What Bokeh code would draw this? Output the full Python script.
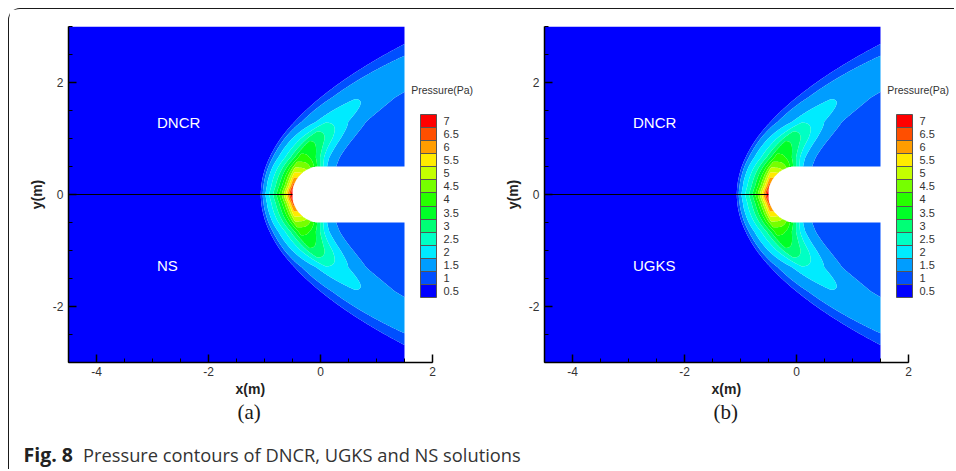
import numpy as np
from bokeh.plotting import figure
from bokeh.models import (Range1d, ColorBar, LinearColorMapper, FixedTicker,
                          NumeralTickFormatter, Title)
from bokeh.layouts import row, column
from bokeh.core.properties import value
from bokeh.embed import file_html
from bokeh.resources import INLINE

# ---------------- data ----------------
level_values = [0.5, 1.0, 1.5, 2.0, 2.5, 3.0, 3.5, 4.0, 4.5, 5.0, 5.5, 6.0, 6.5, 7.0]
palette = ["#0000FF", "#004FFF", "#009DFF", "#00EBFF", "#00FFC4", "#00FF76", "#00FF27",
           "#27FF00", "#76FF00", "#C4FF00", "#FFEB00", "#FF9D00", "#FF4F00", "#FF0000"]
panel_tags = ["(a)", "(b)"]
upper_names = ["DNCR", "DNCR"]
lower_names = ["NS", "UGKS"]
x_major = [-4, -2, 0, 2]
y_major = [-2, 0, 2]
x_axis_title = "x(m)"
y_axis_title = "y(m)"
bar_title = "Pressure(Pa)"
caption_bold = "Fig. 8"
caption_rest = "Pressure contours of DNCR, UGKS and NS solutions"

# flow geometry / field values
x_domain = [-4.5, 1.5]
y_domain = [-3.0, 3.0]
x_axis_end = 2.0
body_radius = 0.5
shock_x0 = -1.08      # outer edge of the shock on the stagnation line
shock_curv = 0.345    # x = x0 + c*y^2
p_inf = 0.5
p_floor = 1.0         # pressure behind the shoulder
ridge_y = [0.0, 0.08, 0.15, 0.25, 0.35, 0.47, 0.66, 1.0, 1.3, 1.73, 2.2, 3.0]
ridge_p = [7.4, 7.0, 6.5, 6.0, 5.5, 4.8, 3.9, 3.15, 2.2, 1.72, 1.55, 1.35]
ridge_m = [0.58, 0.58, 0.58, 0.57, 0.55, 0.52, 0.50, 0.47, 0.45, 0.45, 0.50, 0.55]
jump_frac = [0.25, 0.25, 0.26, 0.28, 0.30, 0.33, 0.38, 0.45, 0.55, 0.70, 0.80, 0.85]
jump_width = [0.15, 0.15, 0.15, 0.15, 0.16, 0.16, 0.17, 0.18, 0.19, 0.2, 0.2, 0.2]

# ---------------- field ----------------
def smoothstep(u):
    s = np.clip(u, 0.0, 1.0)
    return s * s * (3 - 2 * s)

xg = np.linspace(x_domain[0], x_domain[1], 601)
yg = np.linspace(y_domain[0], y_domain[1], 601)
X, Y = np.meshgrid(xg, yg)
AY = np.abs(Y)
xs = shock_x0 + shock_curv * AY ** 2
norm = np.sqrt(1 + (2 * shock_curv * AY) ** 2)
M = (X - xs) / norm
R = np.interp(AY, ridge_y, ridge_p)
MR = np.interp(AY, ridge_y, ridge_m)
AL = np.interp(AY, ridge_y, jump_frac)
TA = np.interp(AY, ridge_y, jump_width)
T = np.clip(M / MR, 0, 1)
F = AL * (1 - np.exp(-T / TA)) / (1 - np.exp(-1 / TA)) + (1 - AL) * T ** 2.3
p_front = p_inf + (R - p_inf) * F
D = np.clip(M - MR, 0, None)
omega = smoothstep((X + 0.45) / 0.6)
p_back = R - (R - p_floor) * (1 - np.exp(-(D / 0.42) ** 2)) * omega
Z = np.where(M < MR, p_front, p_back)
Z = np.where(M <= 0, p_inf, Z)
inside = ((X ** 2 + Y ** 2 < body_radius ** 2) & (X <= 0)) | ((X >= 0) & (AY < body_radius))
Z = np.where(inside, np.nan, Z)

mids = [(a + b) / 2 for a, b in zip(level_values[:-1], level_values[1:])]
edges = [0.0] + mids + [10.0]

FONT = "Liberation Sans"
PX = 56.0          # pixels per metre
FRAME_W = 410
FRAME_H = 336
FIG_H = 420

def make_panel(k, left):
    p = figure(width=left + FRAME_W, height=FIG_H,
               x_range=Range1d(x_domain[0], x_domain[0] + FRAME_W / PX),
               y_range=Range1d(*y_domain), output_backend="svg", toolbar_location=None,
               min_border_left=left, min_border_right=0, min_border_top=17,
               min_border_bottom=FIG_H - 17 - FRAME_H, outline_line_color=None,
               background_fill_color="white", border_fill_color="white")
    p.grid.visible = False
    p.contour(xg, yg, Z, levels=edges, fill_color=palette)
    p.line(x=[x_domain[0], -body_radius], y=[0, 0], line_color="black", line_width=1.2)
    p.text(x=[-2.92, -2.92], y=[1.29, -1.27], text=[upper_names[k], lower_names[k]],
           text_color="white", text_font=value(FONT), text_font_size="15px",
           text_align="left", text_baseline="middle")
    p.text(x=[1.62], y=[1.875], text=[bar_title], text_color="#333333",
           text_font=value(FONT), text_font_size="10.5px", text_align="left",
           text_baseline="middle")

    for ax, ticks, bnds in ((p.xaxis, x_major, (x_domain[0], x_axis_end)),
                            (p.yaxis, y_major, tuple(y_domain))):
        ax.bounds = bnds
        ax.ticker = FixedTicker(ticks=ticks,
                                minor_ticks=list(np.arange(bnds[0], bnds[1] + 0.01, 0.5)))
        ax.formatter = NumeralTickFormatter(format="0")
        ax.axis_line_color = "black"
        ax.axis_line_width = 1.5
        ax.major_tick_in = 8
        ax.major_tick_out = 0
        ax.minor_tick_in = 4
        ax.minor_tick_out = 0
        ax.major_tick_line_color = "black"
        ax.major_tick_line_width = 1.5
        ax.minor_tick_line_color = "black"
        ax.major_label_text_font = FONT
        ax.major_label_text_font_size = "12px"
        ax.major_label_text_color = "#333333"
        ax.axis_label_text_font = FONT
        ax.axis_label_text_font_style = "bold"
        ax.axis_label_text_font_size = "14px"
        ax.axis_label_text_color = "#222222"
    p.yaxis.axis_label = y_axis_title
    p.xaxis.major_label_standoff = 4
    p.yaxis.major_label_standoff = 5
    p.yaxis.axis_label_standoff = 5

    mapper = LinearColorMapper(palette=palette, low=level_values[0] - 0.25,
                               high=level_values[-1] + 0.25)
    cb = ColorBar(color_mapper=mapper,
                  ticker=FixedTicker(ticks=level_values, minor_ticks=mids),
                  formatter=NumeralTickFormatter(format="0.[0]"),
                  location=(352, 65), width=16, height=183, padding=0, margin=0,
                  background_fill_alpha=0, border_line_color=None,
                  bar_line_color="#555555", major_tick_line_color=None,
                  minor_tick_in=16, minor_tick_out=0, minor_tick_line_color="#555555",
                  label_standoff=7, major_label_text_font=FONT,
                  major_label_text_font_size="11px", major_label_text_color="#333333")
    p.add_layout(cb)
    # x-axis title centred on the drawn axis (-4.5 .. 2), then the panel tag
    p.add_layout(Title(text=x_axis_title, align="left", offset=167,
                       text_font=FONT, text_font_size="14px", text_font_style="bold",
                       text_color="#222222", standoff=0), "below")
    p.add_layout(Title(text=panel_tags[k], align="left", offset=169,
                       text_font="Liberation Serif", text_font_size="21px",
                       text_font_style="normal", text_color="#1a1a1a", standoff=2), "below")
    return p

pa = make_panel(0, 59)
pb = make_panel(1, 66)

CAP_W = pa.width + pb.width
cap = figure(width=CAP_W, height=40, x_range=Range1d(0, CAP_W), y_range=Range1d(0, 40),
             x_axis_type=None, y_axis_type=None, output_backend="svg",
             toolbar_location=None, min_border=0, outline_line_color=None)
cap.grid.visible = False
cap.text(x=[14], y=[15.5], text=[caption_bold], text_font=value("Open Sans"),
         text_font_style="bold", text_font_size="19.5px", text_baseline="middle",
         text_color="#222222")
cap.text(x=[73.5], y=[15.5], text=[caption_rest], text_font=value("Open Sans"),
         text_font_size="18.3px", text_baseline="middle", text_color="#333333")

layout = column(row(pa, pb), cap, margin=(8, 0, 0, 8),
                styles={"border-top": "1.5px solid #1a1a1a",
                        "border-left": "1.5px solid #1a1a1a",
                        "border-top-left-radius": "12px"})

open("out.html", "w").write(file_html(layout, INLINE))
